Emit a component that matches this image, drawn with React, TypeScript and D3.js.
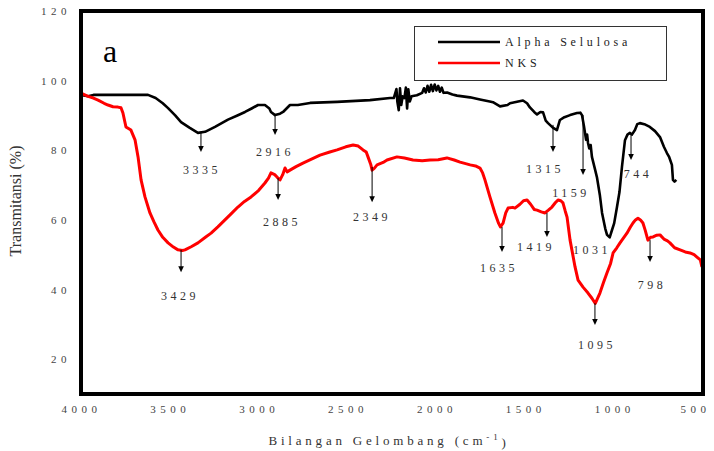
import React, { useEffect, useRef } from "react";
import * as d3 from "d3";

// [wavenumber, transmittance]
const alphaSelulosa: [number, number][] = [
  [4000, 95.9], [3960, 95.5], [3930, 95.9], [3800, 95.9], [3700, 95.9], [3623, 95.9],
  [3580, 95], [3540, 93.5], [3510, 92.1], [3470, 90], [3437, 88.1], [3390, 86.5],
  [3342, 85.0], [3302, 85.3], [3246, 86.7], [3173, 88.8], [3120, 90], [3077, 91.0],
  [3040, 92], [3004, 93.0], [2965, 93.0], [2940, 92], [2931, 91.0], [2908, 90.1],
  [2880, 90.5], [2863, 91.0], [2824, 93.0], [2780, 93], [2711, 93.6], [2559, 93.9],
  [2374, 94.4], [2261, 95.0], [2240, 95], [2225, 97.6], [2220, 94], [2212, 91.5],
  [2205, 97.8], [2198, 93], [2190, 95.5], [2180, 95], [2172, 98], [2165, 92],
  [2158, 97.5], [2150, 94], [2140, 95.5], [2110, 95.8], [2080, 96.5], [2070, 97.8],
  [2060, 96.6], [2050, 98.5], [2040, 96.8], [2030, 98.8], [2020, 97], [2010, 98.9],
  [2000, 97.2], [1990, 98.5], [1980, 96.8], [1970, 98], [1960, 96.5], [1940, 96.6],
  [1910, 96], [1884, 95.7], [1811, 95.2], [1755, 94.6], [1700, 94], [1682, 93.8],
  [1642, 92.6], [1600, 93], [1586, 93.5], [1540, 94], [1513, 94.3], [1490, 93.5],
  [1474, 92.3], [1450, 91], [1434, 90.3], [1415, 91], [1400, 90.9], [1385, 88.5],
  [1372, 87.8], [1345, 86.5], [1322, 85.8], [1305, 88.7], [1280, 89.5], [1248, 90.1],
  [1209, 90.7], [1190, 90.8], [1181, 90.1], [1170, 87], [1164, 85.0], [1158, 83],
  [1152, 84.5], [1147, 82.1], [1140, 80.5], [1132, 81.5], [1125, 78.1], [1110, 75],
  [1097, 72.3], [1080, 67], [1068, 62.0], [1050, 57.5], [1040, 55.7], [1025, 55],
  [1012, 57.1], [1000, 59], [984, 63.7], [970, 68], [956, 75.2], [939, 82.9],
  [925, 84.5], [911, 85.0], [900, 84.5], [883, 85.8], [870, 87.5], [855, 87.8],
  [830, 87.5], [799, 86.7], [770, 85.5], [742, 83.8], [720, 81], [703, 79.2],
  [690, 78], [675, 75.8], [669, 71.5], [660, 71], [650, 71.5]
];

const nks: [number, number][] = [
  [4000, 96.4], [3960, 95.5], [3930, 95], [3904, 94.4], [3870, 93.5], [3848, 93.0],
  [3820, 92.5], [3792, 92.4], [3775, 92.2], [3764, 90.7], [3747, 86.7], [3719, 85.8],
  [3696, 83.0], [3679, 78.1], [3662, 71.5], [3640, 66.6], [3612, 62.0], [3590, 59.5],
  [3567, 57.1], [3540, 55], [3510, 53.4], [3480, 52.2], [3454, 51.4], [3430, 51.2],
  [3415, 51.4], [3380, 52.3], [3342, 53.4], [3300, 55], [3268, 56.2], [3230, 58],
  [3190, 60.0], [3150, 62], [3117, 63.7], [3080, 65.3], [3043, 66.6], [3000, 68.5],
  [2965, 70.6], [2945, 72], [2931, 73.5], [2910, 73], [2897, 72.3], [2880, 71.5],
  [2865, 73], [2852, 74.9], [2840, 73.8], [2824, 74.3], [2790, 75.3], [2751, 76.3],
  [2700, 77.5], [2655, 78.6], [2600, 79.5], [2559, 80.1], [2510, 81], [2469, 81.5],
  [2440, 81.2], [2413, 80.1], [2395, 79.5], [2385, 78.1], [2370, 76], [2362, 74.3],
  [2350, 74.8], [2334, 75.8], [2300, 76.5], [2278, 77.2], [2222, 78.1], [2180, 77.8],
  [2132, 77.2], [2080, 77], [2036, 77.2], [1990, 77.3], [1941, 77.8], [1900, 77.2],
  [1867, 76.6], [1810, 75.8], [1780, 75.5], [1755, 74.9], [1740, 73.5], [1727, 71.5],
  [1699, 66.6], [1671, 62.0], [1650, 59], [1640, 58.0], [1625, 59.1], [1610, 62],
  [1597, 63.4], [1570, 63.6], [1558, 63.4], [1530, 64.5], [1510, 65.5], [1490, 65.7],
  [1470, 64.5], [1450, 63], [1434, 62.8], [1410, 62.3], [1389, 62.0], [1370, 62.8],
  [1350, 63.7], [1330, 65], [1316, 65.7], [1300, 65.5], [1288, 64.9], [1275, 62.5],
  [1265, 60.8], [1248, 54.2], [1220, 46.5], [1203, 42.7], [1175, 40.7], [1147, 39.0],
  [1125, 37.5], [1106, 36.0], [1080, 39.0], [1060, 42], [1040, 44.8], [1020, 47.5],
  [1006, 50.5], [985, 52], [967, 53.4], [945, 55], [928, 56.2], [910, 57.8],
  [894, 59.1], [880, 60], [866, 60.5], [852, 60], [838, 59.1], [825, 57],
  [810, 54.2], [795, 55], [781, 55.1], [760, 55.6], [742, 55.7], [720, 54.5],
  [700, 54], [686, 53.4], [660, 52], [629, 51.4], [600, 50.8], [573, 50.5],
  [550, 50], [534, 49.3], [515, 48.5], [506, 46.5]
];

const xTicks = [4000, 3500, 3000, 2500, 2000, 1500, 1000, 500];
const yTicks = [20, 40, 60, 80, 100, 120];

const seriesNames = ["Alpha Selulosa", "NKS"];
const seriesColors = ["#000000", "#ff0000"];

// peak markers: arrow at wavenumber `at`, from T `from` to T `to`; label at (tx, ty)
const peakLabels = [
  { label: "3335", at: 3325, from: 85.0, to: 79.5, tx: 3319, ty: 74.3 },
  { label: "2916", at: 2908, from: 90.1, to: 84.4, tx: 2908, ty: 79.5 },
  { label: "2885", at: 2891, from: 72.0, to: 65.7, tx: 2869, ty: 59.4 },
  { label: "3429", at: 3437, from: 51.4, to: 45.0, tx: 3443, ty: 38.1 },
  { label: "2349", at: 2362, from: 75.2, to: 65.1, tx: 2362, ty: 60.8 },
  { label: "1635", at: 1631, from: 58.0, to: 50.8, tx: 1648, ty: 46.2 },
  { label: "1419", at: 1378, from: 62.0, to: 55.1, tx: 1440, ty: 52.2 },
  { label: "1315", at: 1344, from: 87.3, to: 79.5, tx: 1389, ty: 74.6 },
  { label: "1159", at: 1175, from: 90.1, to: 72.9, tx: 1243, ty: 67.7 },
  { label: "744", at: 905, from: 85.0, to: 77.2, tx: 866, ty: 73.2 },
  { label: "1095", at: 1108, from: 36.1, to: 29.8, tx: 1096, ty: 24.1 },
  { label: "798", at: 798, from: 54.2, to: 47.9, tx: 787, ty: 41.3 },
  { label: "1031", at: null, from: null, to: null, tx: 1125, ty: 51.4 }
];

const W = 714;
const H = 451;
const frame = { left: 81, top: 11, right: 703, bottom: 394 };
const serif = "'Liberation Serif', 'DejaVu Serif', serif";

const renderChart = (svg: d3.Selection<SVGSVGElement, unknown, null, undefined>) => {
  svg.selectAll("*").remove();

  const x = d3.scaleLinear().domain([4000, 500]).range([frame.left, frame.right]);
  const y = d3.scaleLinear().domain([10, 120]).range([frame.bottom, frame.top]);

  // axes (labels only)
  const xAxisG = svg.append("g")
    .attr("transform", `translate(0, ${frame.bottom})`)
    .call(d3.axisBottom(x).tickValues(xTicks).tickSize(0).tickFormat(d3.format("d")));
  xAxisG.select(".domain").remove();
  xAxisG.selectAll<SVGTextElement, number>("text")
    .attr("y", 15)
    .attr("dy", "0.35em")
    .attr("dx", (d, i) => (i === xTicks.length - 1 ? -8 : 0))
    .attr("fill", "#444")
    .style("font-family", serif)
    .style("font-size", "11px")
    .style("letter-spacing", "4.5px");

  const yAxisG = svg.append("g")
    .attr("transform", `translate(${frame.left}, 0)`)
    .call(d3.axisLeft(y).tickValues(yTicks).tickSize(0).tickFormat(d3.format("d")));
  yAxisG.select(".domain").remove();
  yAxisG.selectAll("text")
    .attr("x", -10)
    .attr("fill", "#444")
    .style("font-family", serif)
    .style("font-size", "11px")
    .style("letter-spacing", "4.5px");

  // axis titles
  const xTitle = svg.append("text")
    .attr("x", 389)
    .attr("y", 440)
    .attr("dy", "0.35em")
    .attr("text-anchor", "middle")
    .attr("fill", "#333")
    .style("font-family", serif)
    .style("font-size", "13px")
    .style("letter-spacing", "3.8px")
    .text("Bilangan Gelombang (cm");
  xTitle.append("tspan").attr("dy", "-0.5em").style("font-size", "9px").text("-1");
  xTitle.append("tspan").attr("dy", "0.5em").text(")");

  svg.append("text")
    .attr("transform", `translate(15, 201) rotate(-90)`)
    .attr("text-anchor", "middle")
    .attr("dy", "0.35em")
    .attr("fill", "#333")
    .style("font-family", serif)
    .style("font-size", "16px")
    .text("Transmitansi (%)");

  // curves
  const line = d3.line<[number, number]>()
    .x(d => x(d[0]))
    .y(d => y(d[1]));

  const plot = svg.append("g");
  plot.append("path")
    .datum(alphaSelulosa)
    .attr("fill", "none")
    .attr("stroke", seriesColors[0])
    .attr("stroke-width", 2.6)
    .attr("stroke-linejoin", "round")
    .attr("d", line);
  plot.append("path")
    .datum(nks)
    .attr("fill", "none")
    .attr("stroke", seriesColors[1])
    .attr("stroke-width", 3)
    .attr("stroke-linejoin", "round")
    .attr("d", line);

  // peak arrows and labels
  const peaks = svg.append("g");
  peakLabels.forEach(p => {
    if (p.at !== null) {
      const px = x(p.at);
      const y0 = y(p.from as number);
      const y1 = y(p.to as number);
      peaks.append("line")
        .attr("x1", px).attr("x2", px)
        .attr("y1", y0).attr("y2", y1 - 4)
        .attr("stroke", "#000")
        .attr("stroke-width", 1);
      peaks.append("path")
        .attr("d", `M${px - 2.8},${y1 - 6}L${px + 2.8},${y1 - 6}L${px},${y1}Z`)
        .attr("fill", "#000");
    }
    peaks.append("text")
      .attr("x", x(p.tx))
      .attr("y", y(p.ty))
      .attr("dy", "0.35em")
      .attr("text-anchor", "middle")
      .attr("fill", "#333")
      .style("font-family", serif)
      .style("font-size", "12px")
      .style("letter-spacing", "3.5px")
      .text(p.label);
  });

  // frame
  svg.append("rect")
    .attr("x", frame.left)
    .attr("y", frame.top)
    .attr("width", frame.right - frame.left)
    .attr("height", frame.bottom - frame.top)
    .attr("fill", "none")
    .attr("stroke", "#000")
    .attr("stroke-width", 4);

  // panel letter
  svg.append("text")
    .attr("x", 103)
    .attr("y", 62)
    .attr("fill", "#000")
    .style("font-family", serif)
    .style("font-size", "32px")
    .text("a");

  // legend
  const legend = svg.append("g");
  legend.append("rect")
    .attr("x", 414.5)
    .attr("y", 26.5)
    .attr("width", 252)
    .attr("height", 54)
    .attr("fill", "#fff")
    .attr("stroke", "#333")
    .attr("stroke-width", 1);
  seriesNames.forEach((name, i) => {
    const ly = 42 + i * 21;
    legend.append("line")
      .attr("x1", 438).attr("x2", 500)
      .attr("y1", ly).attr("y2", ly)
      .attr("stroke", seriesColors[i])
      .attr("stroke-width", 2.6);
    legend.append("text")
      .attr("x", 505)
      .attr("y", ly)
      .attr("dy", "0.35em")
      .attr("fill", "#222")
      .style("font-family", serif)
      .style("font-size", "12px")
      .style("letter-spacing", "3.8px")
      .text(name);
  });
};

const App = () => {
  const svgRef = useRef<SVGSVGElement>(null);

  useEffect(() => {
    if (svgRef.current) {
      d3.select(svgRef.current).call(renderChart);
    }
  }, []);

  return (
    <svg
      ref={svgRef}
      width={W}
      height={H}
      style={{ position: "absolute", left: 0, top: 0, background: "#fff" }}
    />
  );
};

export default App;
